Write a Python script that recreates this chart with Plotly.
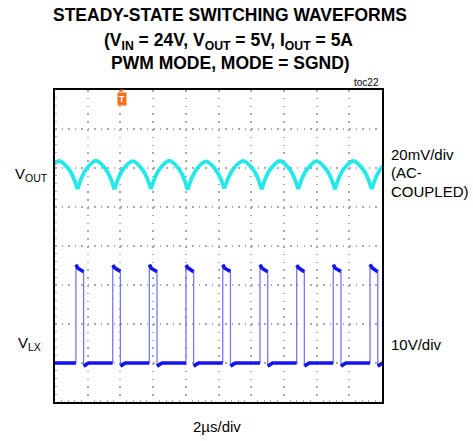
import plotly.graph_objects as go

# ---------------- data ----------------
# time axis: 2 us/div, 10 divisions
time_range_us = [0, 20]
# VLX switching node (10 V/div), rising-edge times (us)
vlx_rise_us = [1.28, 3.53, 5.77, 8.01, 10.26, 12.54, 14.78, 17.02, 19.27]
vlx_fall_us = [1.75, 4.00, 6.24, 8.48, 10.73, 13.01, 15.25, 17.49, 19.74]
vlx_high_start_v = [25.2, 25.1, 25.2, 25.1, 25.2, 25.2, 25.1, 25.2, 25.3]
vlx_high_mid_v = [24.3, 24.4, 24.3, 24.4, 24.3, 24.3, 24.4, 24.3, 24.4]
vlx_high_end_v = [23.4, 23.5, 23.4, 23.4, 23.5, 23.4, 23.4, 23.5, 23.4]
vlx_low_dip_v = -0.8
vlx_low_v = 0.0

# VOUT ripple (20 mV/div, AC coupled): cusp (trough) times and arch peaks
vout_trough_us = [-0.87, 1.38, 3.63, 5.87, 8.11, 10.36, 12.64, 14.88, 17.12, 19.37, 21.62]
vout_trough_mv = [-10.8, -10.8, -11.0, -10.8, -11.2, -10.6, -11.0, -10.8, -11.0, -10.9, -10.8]
vout_peak_mv = [3.6, 3.8, 3.5, 3.8, 3.4, 3.7, 3.6, 3.5, 3.6, 3.6]
vout_shoulder_mv = [-0.3, -0.2, -0.4, -0.2, -0.5, -0.2, -0.3, -0.4, -0.3, -0.3]
vout_knee_mv = [-4.6, -4.5, -4.7, -4.5, -4.8, -4.5, -4.6, -4.6, -4.6, -4.6]

trigger_time_us = 4.12

# ---------------- build traces ----------------
flat_x, flat_y = [], []
edge_x, edge_y = [], []
prev_fall = time_range_us[0]
for i, (r, f) in enumerate(zip(vlx_rise_us, vlx_fall_us)):
    if i == 0:
        flat_x += [prev_fall, r, None]
        flat_y += [vlx_low_v, vlx_low_v, None]
    else:
        flat_x += [prev_fall, prev_fall + 0.3, r, None]
        flat_y += [vlx_low_dip_v, vlx_low_v, vlx_low_v, None]
    flat_x += [r, r + 0.12, f, None]
    flat_y += [vlx_high_start_v[i], vlx_high_mid_v[i], vlx_high_end_v[i], None]
    edge_x += [r, r, None, f, f, None]
    edge_y += [vlx_low_v, vlx_high_start_v[i], None, vlx_high_end_v[i], vlx_low_dip_v, None]
    prev_fall = f
flat_x += [prev_fall, prev_fall + 0.3, time_range_us[1]]
flat_y += [vlx_low_dip_v, vlx_low_v, vlx_low_v]

vout_x, vout_y = [], []
for i in range(len(vout_trough_us) - 1):
    t0, t1 = vout_trough_us[i], vout_trough_us[i + 1]
    p = t1 - t0
    vout_x += [t0, t0 + 0.12 * p, t0 + 0.25 * p, t0 + 0.5 * p,
               t0 + 0.75 * p, t0 + 0.88 * p, t1, None]
    vout_y += [vout_trough_mv[i], vout_knee_mv[i], vout_shoulder_mv[i], vout_peak_mv[i],
               vout_shoulder_mv[i], vout_knee_mv[i], vout_trough_mv[i + 1], None]

fig = go.Figure()
fig.add_trace(go.Scatter(x=edge_x, y=edge_y, mode="lines",
                         line=dict(color="#7777ff", width=1.3),
                         hoverinfo="skip", showlegend=False))
fig.add_trace(go.Scatter(x=flat_x, y=flat_y, mode="lines",
                         line=dict(color="#1414ee", width=3.6),
                         hoverinfo="skip", showlegend=False))
fig.add_trace(go.Scatter(x=vout_x, y=vout_y, mode="lines", yaxis="y2",
                         line=dict(color="#22e8ea", width=3.8, shape="spline", smoothing=1.0),
                         connectgaps=False, hoverinfo="skip", showlegend=False))

grid_col = "#a9a9a9"
fig.update_layout(
    width=473, height=441,
    margin=dict(l=55, r=91, t=90, b=39),
    paper_bgcolor="white", plot_bgcolor="white",
    font=dict(family="Liberation Sans, Arial, sans-serif", color="black"),
    xaxis=dict(range=time_range_us, dtick=2, showticklabels=False,
               showgrid=True, gridcolor=grid_col, gridwidth=1.5, griddash="1.5px,6.3px",
               zeroline=False, showline=True, mirror=True, linecolor="black", linewidth=2,
               ticks="", minor=dict(dtick=0.4, ticks="inside", ticklen=2, tickcolor=grid_col, showgrid=False)),
    yaxis=dict(range=[-10, 70], dtick=10, showticklabels=False,
               showgrid=True, gridcolor=grid_col, gridwidth=1.5, griddash="1.5px,5.04px",
               zeroline=False, showline=True, mirror=True, linecolor="black", linewidth=2,
               ticks="", minor=dict(dtick=2, ticks="inside", ticklen=2, tickcolor=grid_col, showgrid=False)),
    yaxis2=dict(range=[-120, 40], overlaying="y", showgrid=False, showticklabels=False,
                zeroline=False, showline=False, ticks=""),
)

def px_x(px):
    return (px - 55) / 327.0

def px_y(py):
    return (402 - py) / 312.0

anns = [
    dict(text="STEADY-STATE SWITCHING WAVEFORMS", x=px_x(230), y=px_y(15), size=17.5, bold=True, xanchor="center"),
    dict(text="(V<sub>IN</sub> = 24V, V<sub>OUT</sub> = 5V, I<sub>OUT</sub> = 5A", x=px_x(228), y=px_y(41.5), size=17.5, bold=True, xanchor="center"),
    dict(text="PWM MODE, MODE = SGND)", x=px_x(230), y=px_y(62.5), size=17.5, bold=True, xanchor="center"),
    dict(text="toc22", x=px_x(381), y=px_y(82), size=10, bold=False, xanchor="right"),
    dict(text="V<sub>OUT</sub>", x=px_x(13), y=px_y(174), size=15, bold=False, xanchor="left"),
    dict(text="V<sub>LX</sub>", x=px_x(16), y=px_y(343), size=15, bold=False, xanchor="left"),
    dict(text="20mV/div", x=px_x(389), y=px_y(154), size=15, bold=False, xanchor="left"),
    dict(text="(AC-", x=px_x(389), y=px_y(172.5), size=15, bold=False, xanchor="left"),
    dict(text="COUPLED)", x=px_x(389), y=px_y(191), size=15, bold=False, xanchor="left"),
    dict(text="10V/div", x=px_x(389), y=px_y(344), size=15, bold=False, xanchor="left"),
    dict(text="2µs/div", x=px_x(217), y=px_y(426), size=15, bold=False, xanchor="center"),
]
for a in anns:
    fig.add_annotation(text=a["text"], x=a["x"], y=a["y"], xref="paper", yref="paper",
                       xanchor=a["xanchor"], yanchor="middle", showarrow=False,
                       font=dict(size=a["size"], color="black",
                                 family="Liberation Sans, Arial, sans-serif",
                                 weight="bold" if a["bold"] else "normal"))

# trigger marker
fig.add_annotation(text="<b>T</b>", x=trigger_time_us, xref="x", y=px_y(99), yref="paper",
                   xanchor="center", yanchor="middle", showarrow=False,
                   font=dict(size=9, color="white", family="Liberation Sans, Arial"),
                   bgcolor="#f2711c", borderpad=1)
fig.add_annotation(text="▼", x=trigger_time_us, xref="x", y=px_y(91), yref="paper",
                   xanchor="center", yanchor="middle", showarrow=False,
                   font=dict(size=6, color="#f2711c"))

fig.write_html("out.html", config={"displayModeBar": False},
               post_script="document.body.style.margin='0px';document.body.style.overflow='hidden';")
